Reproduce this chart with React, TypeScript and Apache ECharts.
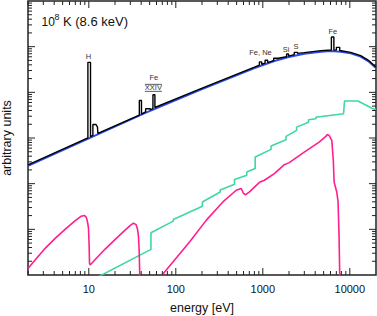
import React, { useEffect, useRef } from "react";
import * as echarts from "echarts";

// ---------- data ----------
// Black: thermal spectrum incl. emission lines (energy eV, arbitrary units)
const blackE = [2, 9.76, 9.76, 10.46, 10.46, 11.14, 11.14, 12.06, 12.58, 12.71,
  38.1, 38.1, 40.3, 40.3, 45, 45, 50.8, 50.8, 54.6, 54.6, 57.5, 57.5,
  188, 802, 914, 914, 971, 971, 1062, 1062, 1137, 1137, 1333, 1333, 1508, 1508,
  1876, 1876, 1978, 1978, 2299, 2299, 2508, 2508, 2992, 4645, 6140, 6140, 6560, 6560,
  7010, 7010, 7660, 7660, 10240, 13330, 16600, 20000];
const blackY = [258, 1005, 45400, 45400, 1067, 1140, 1982, 1982, 1730, 1260,
  3177, 6622, 6622, 3327, 3733, 4365, 4365, 4108, 4426, 8830, 8830, 4656,
  11800, 35650, 39450, 46350, 46350, 40850, 43650, 50230, 50230, 44740, 49400, 55600, 55600, 53850,
  60260, 69340, 69340, 62080, 66830, 75160, 75160, 71450, 74000, 81800, 84700, 163000, 163000, 84500,
  84000, 96600, 96600, 82500, 75100, 63560, 49400, 36000];

// Blue: continuum only
const blueE = [2, 10, 44, 188, 802, 1357, 1928, 2992, 4645, 6040, 7870, 10240, 13330, 16600, 20000];
const blueY = [245, 980, 3500, 11200, 33900, 48600, 58900, 70300, 77700, 80500, 77700, 71300, 60400, 46900, 34200];

// Green
const greenE = [11.8, 51.8, 51.8, 93.5, 93.5, 202, 202, 324, 324, 473, 473, 654, 654, 817, 817,
  1245, 1245, 1849, 1849, 2445, 2445, 3351, 3351, 4073, 4073, 8470, 8690, 12420, 17950, 20000];
const greenY = [0.84, 3.64, 8.39, 15.1, 16.5, 32.1, 39.8, 65.9, 72.8, 97, 123, 152, 180, 214, 383,
  564, 666, 918, 1084, 1466, 1730, 2224, 2510, 2640, 2858, 3394, 6457, 6457, 4497, 4150];

// Magenta
const pinkE = [2, 2.44, 3.17, 4.13, 5.37, 6.99, 8.18, 8.85, 9.34, 9.66, 9.92, 10.08, 10.19, 10.37,
  11.84, 15.4, 20.0, 26.1, 29.8, 32.6, 34.9, 36.3, 37.2, 37.9, 38.5, 39, 62, 69.7,
  93.1, 144.5, 224.4, 347.6, 495, 565, 600, 637, 703, 915, 1043, 1357, 1767, 2014,
  2992, 4443, 5300, 5520, 5780, 6210, 6475, 6600, 7080, 7330, 7520, 7660, 7800];
const pinkY = [1.38, 2.18, 3.89, 6.43, 10.1, 15.5, 19.4, 20.1, 18.5, 14.6, 10.6, 4.52, 1.8, 1.65,
  2.18, 3.7, 5.96, 9.61, 12.1, 13.7, 12.7, 10.1, 7.11, 3.52, 1, 0.3, 0.3, 1,
  1.95, 5.33, 15.9, 39.8, 71.8, 78.2, 60.8, 57.3, 65.9, 107, 119, 166, 261, 289,
  492, 813, 1080, 1190, 1140, 887, 298, 109, 65.9, 39.8, 7.47, 1, 0.3];

// Annotations
const annText = ["H", "Fe", "XXIV", "Fe, Ne", "Si", "S", "Fe"];
const annE = [9.9, 56, 55.2, 940, 1849, 2404, 6370];
const annY = [60500, 21400, 12540, 72800, 85900, 101600, 212600];

// Axis ticks
const xLabels = [10, 100, 1000, 10000];
const decadesX = [1, 10, 100, 1000, 10000];
const decadesY = [1, 10, 100, 1000, 10000, 100000, 1000000];
const minorMult = [2, 3, 4, 5, 6, 7, 8, 9];
const X_MIN = 2, X_MAX = 20000, Y_MIN = 1, Y_MAX = 1000000;

const zip = (a: number[], b: number[]) => a.map((v, i) => [v, b[i]]);

export default function App() {
  const ref = useRef<HTMLDivElement>(null);
  useEffect(() => {
    if (!ref.current) return;
    const chart = echarts.init(ref.current, undefined, { renderer: "svg" });
    const xTicks: number[][] = [];
    decadesX.forEach((d) => {
      if (d >= X_MIN && d <= X_MAX) xTicks.push([d, 10, 7]);
      minorMult.forEach((m) => {
        const v = d * m;
        if (v >= X_MIN && v < X_MAX) xTicks.push([v, 10, 4]);
      });
    });
    const yTicks: number[][] = [];
    decadesY.forEach((d) => {
      if (d > Y_MIN && d < Y_MAX) yTicks.push([100, d, 7]);
      minorMult.forEach((m) => {
        const v = d * m;
        if (v > Y_MIN && v < Y_MAX) yTicks.push([100, v, 4]);
      });
    });
    const tickColor = "#222";
    const font = "'Liberation Sans', Arial, sans-serif";
    chart.setOption({
      animation: false,
      grid: { left: 28, right: 1, top: 1, bottom: 41, outerBoundsMode: "none", containLabel: false, show: true, borderColor: "#222", borderWidth: 1.5, backgroundColor: "transparent" },
      xAxis: {
        type: "log", logBase: 10, min: X_MIN, max: X_MAX,
        name: "energy [eV]", nameLocation: "middle", nameGap: 26,
        nameTextStyle: { fontSize: 12.5, color: "#111", fontFamily: font },
        axisLine: { show: false }, axisTick: { show: false }, splitLine: { show: false }, minorTick: { show: false },
        axisLabel: {
          margin: 8, fontSize: 11, color: "#111", fontFamily: font, showMinLabel: true, showMaxLabel: true,
          formatter: (v: number) => {
            const r = xLabels.find((l) => Math.abs(l - v) / l < 1e-6);
            return r ? String(r) : "";
          },
        },
      },
      yAxis: {
        type: "log", logBase: 10, min: Y_MIN, max: Y_MAX,
        name: "arbitrary units", nameLocation: "middle", nameGap: 15,
        nameTextStyle: { fontSize: 12.5, color: "#111", fontFamily: font },
        axisLine: { show: false }, axisTick: { show: false }, splitLine: { show: false }, axisLabel: { show: false },
      },
      series: [
        { type: "line", data: zip(blueE, blueY), showSymbol: false, clip: true, lineStyle: { color: "#2b4bea", width: 2 }, z: 2 },
        { type: "line", data: zip(blackE, blackY), showSymbol: false, clip: true, lineStyle: { color: "#000", width: 1.4 }, z: 3 },
        { type: "line", data: zip(greenE, greenY), showSymbol: false, clip: true, lineStyle: { color: "#3ed8a2", width: 1.6 }, z: 3 },
        { type: "line", data: zip(pinkE, pinkY), showSymbol: false, clip: true, lineStyle: { color: "#ff1f8e", width: 1.6 }, z: 3 },
        {
          type: "custom", data: xTicks, encode: { x: 0, y: 1 }, z: 5, silent: true,
          renderItem: (params: any, api: any) => {
            const p = api.coord([api.value(0), api.value(1)]);
            const cs = params.coordSys;
            const len = api.value(2);
            const st = { stroke: tickColor, lineWidth: 1 };
            return {
              type: "group", children: [
                { type: "line", shape: { x1: p[0], y1: cs.y + cs.height, x2: p[0], y2: cs.y + cs.height - len }, style: st },
                { type: "line", shape: { x1: p[0], y1: cs.y, x2: p[0], y2: cs.y + len }, style: st },
              ],
            };
          },
        },
        {
          type: "custom", data: yTicks, encode: { x: 0, y: 1 }, z: 5, silent: true,
          renderItem: (params: any, api: any) => {
            const p = api.coord([api.value(0), api.value(1)]);
            const cs = params.coordSys;
            const len = api.value(2);
            const st = { stroke: tickColor, lineWidth: 1 };
            return {
              type: "group", children: [
                { type: "line", shape: { x1: cs.x, y1: p[1], x2: cs.x + len, y2: p[1] }, style: st },
                { type: "line", shape: { x1: cs.x + cs.width, y1: p[1], x2: cs.x + cs.width - len, y2: p[1] }, style: st },
              ],
            };
          },
        },
        {
          type: "custom", data: annE.map((e, i) => [e, annY[i], i]), encode: { x: 0, y: 1 }, z: 6, silent: true,
          renderItem: (params: any, api: any) => {
            const p = api.coord([api.value(0), api.value(1)]);
            const i = api.value(2);
            const txt = annText[i];
            const children: any[] = [
              { type: "text", x: p[0], y: p[1], style: { text: txt, fontSize: 7.5, fontFamily: font, fill: "#333", align: "center", verticalAlign: "middle" } },
            ];
            if (txt === "XXIV") {
              const st = { stroke: "#333", lineWidth: 0.8 };
              children.push({ type: "line", shape: { x1: p[0] - 8.5, y1: p[1] - 3.5, x2: p[0] + 8.5, y2: p[1] - 3.5 }, style: st });
              children.push({ type: "line", shape: { x1: p[0] - 8.5, y1: p[1] + 3.5, x2: p[0] + 8.5, y2: p[1] + 3.5 }, style: st });
            }
            return { type: "group", children };
          },
        },
      ],
      graphic: [
        { type: "text", left: 41.5, top: 16, style: { text: "10", fontSize: 12, fontFamily: font, fill: "#111" } },
        { type: "text", left: 54.5, top: 12, style: { text: "8", fontSize: 9, fontFamily: font, fill: "#111" } },
        { type: "text", left: 63, top: 15, style: { text: "K (8.6 keV)", fontSize: 13, fontFamily: font, fill: "#111" } },
      ],
    });
    return () => chart.dispose();
  }, []);
  return <div ref={ref} style={{ position: "absolute", left: 0, top: 0, width: 377, height: 316 }} />;
}
